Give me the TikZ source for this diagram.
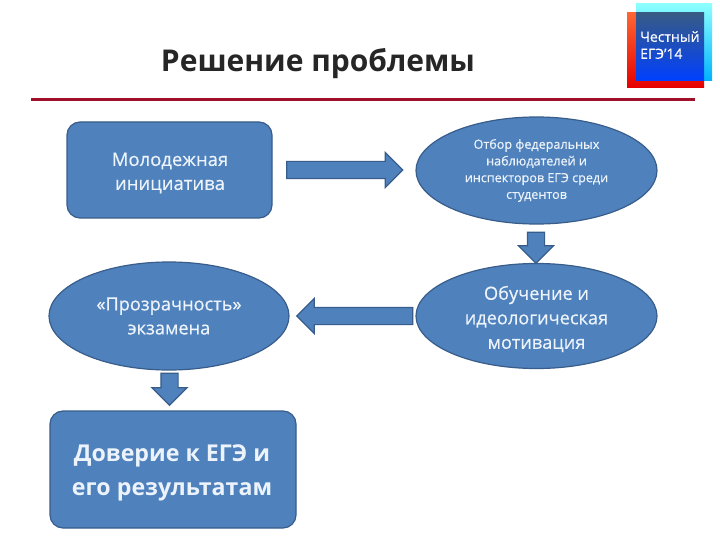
\documentclass[tikz,border=0pt]{standalone}
\usepackage{fontspec}
\setmainfont{Open Sans}
\newfontfamily\medfont{Open Sans}[FakeBold=0.5]
\usetikzlibrary{arrows.meta, positioning, shapes.geometric, shapes.arrows}
\definecolor{boxblue}{RGB}{79,129,189}
\definecolor{boxline}{RGB}{56,93,138}
\definecolor{paletext}{RGB}{236,243,250}
\definecolor{rulered}{RGB}{160,16,40}
\tikzset{
  rbox/.style     = {draw=boxline, line width=1.2pt, fill=boxblue, rounded corners=13pt,
                     align=center, text=paletext, inner sep=0pt},
  oval/.style     = {ellipse, draw=boxline, line width=1.2pt, fill=boxblue,
                     align=center, text=paletext, inner sep=0pt},
  blockarrow/.style = {single arrow, draw=boxline, line width=1.2pt, fill=boxblue, inner sep=8pt,
                     minimum width=34pt, single arrow head extend=9pt, single arrow tip angle=90},
}
\begin{document}
\begin{tikzpicture}[x=1pt, y=-1pt]
  \useasboundingbox (0,0) rectangle (720,540);
  \fill[white] (0,0) rectangle (720,540);

  % title and rule
  \node[font=\fontsize{30}{36}\selectfont\bfseries, text=black!85] (title) at (318,64) {Решение проблемы};
  \coordinate (ruleL) at (31,100);
  \coordinate (ruleR) at (695,100);
  \draw[rulered, line width=3pt] (ruleL) -- (ruleR);

  % logo
  \shade[top color=orange!50!red!80!white, bottom color=red!90!black] (627,13) rectangle (704,88);
  \shade[top color=cyan!45!white, bottom color=cyan!70!blue] (636,4) rectangle (712,81);
  \shade[top color=black!30!boxblue, bottom color=blue!75!cyan] (636,13) rectangle (704,81);
  \node[anchor=north west, align=left, text=white, inner sep=0pt,
        font=\medfont\fontsize{14}{17}\selectfont] (logo) at (640,31) {Честный\\ЕГЭ’14};

  % boxes
  \node[rbox, minimum width=205pt, minimum height=96pt] (youth) at (169.5,170) {};
  \node[font=\medfont\fontsize{18.5}{24}\selectfont, align=center, text=paletext] (youthT) at (170,173) {Молодежная\\инициатива};
  \node[rbox, minimum width=246pt, minimum height=117pt] (trust) at (173,469.5) {};
  \node[font=\fontsize{23.2}{34}\selectfont\bfseries, align=center, text=paletext] (trustT) at (172,473) {Доверие к ЕГЭ и\\его результатам};

  % ellipses
  \node[oval, minimum width=241pt, minimum height=107pt, font=\medfont\fontsize{12.6}{16.7}\selectfont] (select) at (536.5,170.5) {Отбор федеральных\\наблюдателей и\\инспекторов ЕГЭ среди\\студентов};
  \node[oval, minimum width=241pt, minimum height=105pt] (train) at (536.5,316) {};
  \node[font=\medfont\fontsize{18.2}{24.5}\selectfont, align=center, text=paletext] (trainT) at (536.5,319) {Обучение и\\идеологическая\\мотивация};
  \node[oval, minimum width=240pt, minimum height=108pt, font=\medfont\fontsize{18.2}{24}\selectfont] (clear) at (169,316) {«Прозрачность»\\экзамена};

  % arrows
  \node[blockarrow, minimum height=116pt] (a1) at (340.5,170) {};
  \node[blockarrow, minimum height=31pt, shape border rotate=270] (a2) at (536,243.5) {};
  \node[blockarrow, minimum height=116pt, shape border rotate=180] (a3) at (359,316) {};
  \node[blockarrow, minimum height=32pt, shape border rotate=270] (a4) at (169.5,385) {};
\end{tikzpicture}
\end{document}
